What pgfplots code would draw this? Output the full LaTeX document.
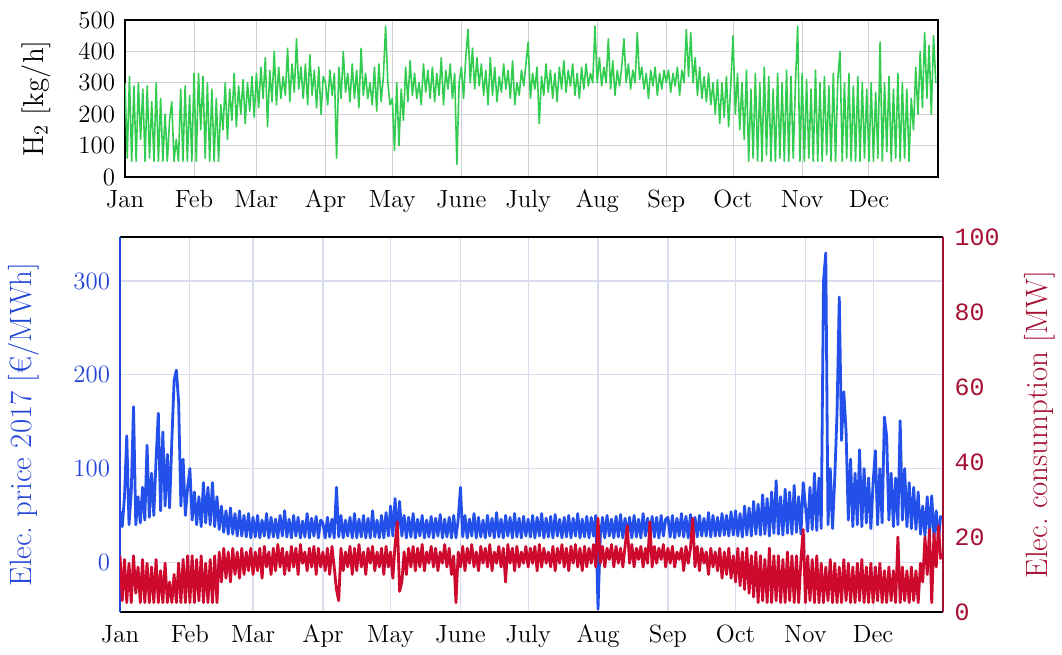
\documentclass[border=0pt]{standalone}
\usepackage{fontspec}
\setmonofont{Liberation Mono}
\usepackage{pgfplots}
\usepackage{pgfplotstable}
\pgfplotsset{compat=1.18}

\definecolor{hgreen}{RGB}{50,205,80}
\definecolor{pblue}{RGB}{35,80,235}
\definecolor{cred}{RGB}{205,10,45}
\definecolor{axred}{RGB}{165,15,50}
\definecolor{axblue}{RGB}{35,70,215}
\definecolor{gridgray}{RGB}{210,210,210}
\definecolor{gridblue}{RGB}{218,220,240}

\newcommand\tickfont{\fontsize{12.5}{15}\selectfont}
\newcommand\labfont{\fontsize{15.5}{18}\selectfont}
\newcommand\toplabfont{\fontsize{14.5}{17}\selectfont}

% one value per day, Jan 1 = 0
\pgfplotstableread[header=false,row sep=\\]{
300\\ 60\\ 320\\ 50\\ 290\\ 50\\ 300\\ 120\\ 280\\ 50\\ 290\\ 60\\ 240\\ 50\\ 300\\ 50\\ 250\\ 50\\ 200\\ 50\\ 180\\ 240\\ 50\\ 120\\ 50\\ 280\\ 50\\ 290\\ 50\\ 260\\ 50\\
330\\ 50\\ 330\\ 150\\ 320\\ 60\\ 300\\ 50\\ 280\\ 50\\ 250\\ 50\\ 230\\ 150\\ 300\\ 120\\ 280\\ 180\\ 330\\ 160\\ 290\\ 200\\ 310\\ 170\\ 300\\ 210\\ 320\\ 190\\
330\\ 220\\ 350\\ 250\\ 380\\ 160\\ 340\\ 240\\ 400\\ 230\\ 350\\ 250\\ 320\\ 260\\ 410\\ 240\\ 360\\ 270\\ 440\\ 280\\ 350\\ 250\\ 360\\ 230\\ 390\\ 260\\ 340\\ 220\\ 350\\ 200\\ 320\\
300\\ 230\\ 340\\ 260\\ 330\\ 60\\ 350\\ 250\\ 400\\ 270\\ 330\\ 240\\ 360\\ 250\\ 340\\ 220\\ 410\\ 260\\ 330\\ 250\\ 300\\ 230\\ 350\\ 210\\ 360\\ 240\\ 320\\ 480\\ 300\\ 230\\
250\\ 85\\ 300\\ 100\\ 280\\ 180\\ 350\\ 240\\ 370\\ 260\\ 330\\ 250\\ 300\\ 230\\ 360\\ 270\\ 340\\ 250\\ 350\\ 240\\ 330\\ 260\\ 380\\ 230\\ 340\\ 280\\ 360\\ 250\\ 330\\ 40\\ 300\\
350\\ 250\\ 380\\ 470\\ 300\\ 410\\ 280\\ 380\\ 290\\ 360\\ 260\\ 340\\ 230\\ 380\\ 260\\ 350\\ 240\\ 320\\ 270\\ 360\\ 280\\ 340\\ 250\\ 370\\ 230\\ 300\\ 260\\ 340\\ 290\\ 360\\
430\\ 250\\ 330\\ 280\\ 350\\ 170\\ 320\\ 260\\ 360\\ 270\\ 340\\ 250\\ 330\\ 240\\ 350\\ 280\\ 370\\ 270\\ 340\\ 290\\ 360\\ 260\\ 330\\ 250\\ 350\\ 280\\ 360\\ 290\\ 330\\ 300\\ 480\\
300\\ 380\\ 290\\ 350\\ 300\\ 440\\ 280\\ 370\\ 260\\ 340\\ 290\\ 350\\ 440\\ 300\\ 360\\ 280\\ 340\\ 300\\ 460\\ 310\\ 350\\ 280\\ 330\\ 250\\ 340\\ 290\\ 350\\ 260\\ 330\\ 280\\ 340\\
300\\ 340\\ 270\\ 330\\ 290\\ 350\\ 260\\ 340\\ 300\\ 470\\ 320\\ 460\\ 300\\ 380\\ 260\\ 350\\ 250\\ 320\\ 240\\ 330\\ 230\\ 300\\ 200\\ 310\\ 170\\ 300\\ 190\\ 320\\ 160\\ 300\\
450\\ 200\\ 330\\ 150\\ 300\\ 120\\ 340\\ 50\\ 280\\ 60\\ 330\\ 50\\ 300\\ 50\\ 350\\ 70\\ 320\\ 50\\ 280\\ 50\\ 330\\ 60\\ 300\\ 50\\ 340\\ 50\\ 320\\ 60\\ 300\\ 480\\ 50\\
330\\ 50\\ 310\\ 60\\ 280\\ 50\\ 340\\ 50\\ 300\\ 50\\ 320\\ 70\\ 290\\ 50\\ 330\\ 50\\ 310\\ 400\\ 50\\ 300\\ 60\\ 330\\ 50\\ 290\\ 50\\ 320\\ 50\\ 300\\ 60\\ 280\\
50\\ 300\\ 50\\ 270\\ 60\\ 430\\ 50\\ 300\\ 80\\ 320\\ 50\\ 280\\ 60\\ 330\\ 50\\ 300\\ 60\\ 280\\ 50\\ 250\\ 150\\ 350\\ 200\\ 400\\ 220\\ 460\\ 250\\ 420\\ 200\\ 450\\ 300\\
}\htwo

\pgfplotstableread[header=false,row sep=\\]{
55\\ 38\\ 70\\ 135\\ 40\\ 75\\ 166\\ 40\\ 70\\ 42\\ 80\\ 45\\ 125\\ 48\\ 95\\ 50\\ 110\\ 159\\ 55\\ 139\\ 60\\ 115\\ 58\\ 130\\ 194\\ 205\\ 171\\ 60\\ 110\\ 50\\ 80\\
100\\ 45\\ 75\\ 40\\ 70\\ 38\\ 85\\ 42\\ 80\\ 40\\ 85\\ 38\\ 70\\ 35\\ 60\\ 32\\ 55\\ 30\\ 58\\ 30\\ 52\\ 28\\ 55\\ 28\\ 50\\ 27\\ 52\\ 26\\
48\\ 27\\ 50\\ 26\\ 45\\ 28\\ 52\\ 26\\ 48\\ 27\\ 46\\ 26\\ 50\\ 28\\ 55\\ 27\\ 46\\ 26\\ 50\\ 28\\ 48\\ 26\\ 44\\ 27\\ 52\\ 26\\ 47\\ 28\\ 49\\ 26\\ 45\\
42\\ 26\\ 48\\ 27\\ 46\\ 26\\ 80\\ 27\\ 50\\ 26\\ 45\\ 28\\ 48\\ 26\\ 52\\ 26\\ 46\\ 27\\ 50\\ 26\\ 47\\ 26\\ 55\\ 27\\ 45\\ 26\\ 50\\ 26\\ 53\\ 28\\
60\\ 28\\ 68\\ 27\\ 65\\ 28\\ 50\\ 26\\ 48\\ 27\\ 52\\ 26\\ 46\\ 28\\ 50\\ 26\\ 45\\ 27\\ 49\\ 26\\ 47\\ 28\\ 51\\ 26\\ 46\\ 27\\ 48\\ 26\\ 50\\ 26\\ 46\\
80\\ 27\\ 50\\ 26\\ 46\\ 28\\ 52\\ 26\\ 48\\ 27\\ 45\\ 26\\ 50\\ 28\\ 47\\ 26\\ 53\\ 27\\ 46\\ 26\\ 50\\ 28\\ 48\\ 26\\ 52\\ 27\\ 47\\ 26\\ 49\\ 28\\
46\\ 27\\ 50\\ 26\\ 48\\ 28\\ 52\\ 26\\ 47\\ 27\\ 49\\ 26\\ 51\\ 28\\ 46\\ 26\\ 48\\ 27\\ 50\\ 26\\ 47\\ 28\\ 52\\ 26\\ 46\\ 27\\ 49\\ 26\\ 48\\ 28\\ 50\\
-50\\ 27\\ 48\\ 26\\ 50\\ 28\\ 46\\ 26\\ 49\\ 27\\ 51\\ 26\\ 47\\ 28\\ 48\\ 26\\ 50\\ 27\\ 46\\ 26\\ 52\\ 28\\ 47\\ 26\\ 49\\ 27\\ 48\\ 26\\ 50\\ 28\\ 46\\
48\\ 27\\ 50\\ 26\\ 47\\ 28\\ 52\\ 27\\ 49\\ 26\\ 51\\ 28\\ 48\\ 27\\ 50\\ 28\\ 47\\ 28\\ 53\\ 27\\ 50\\ 28\\ 48\\ 28\\ 52\\ 29\\ 50\\ 28\\ 54\\ 29\\
55\\ 28\\ 52\\ 27\\ 60\\ 29\\ 58\\ 28\\ 65\\ 30\\ 62\\ 29\\ 72\\ 30\\ 68\\ 28\\ 75\\ 31\\ 87\\ 30\\ 70\\ 29\\ 78\\ 31\\ 75\\ 30\\ 82\\ 32\\ 70\\ 30\\ 85\\
60\\ 33\\ 80\\ 35\\ 95\\ 34\\ 90\\ 36\\ 300\\ 330\\ 40\\ 100\\ 36\\ 90\\ 159\\ 283\\ 130\\ 182\\ 140\\ 45\\ 110\\ 38\\ 95\\ 40\\ 120\\ 38\\ 100\\ 42\\ 90\\ 36\\
85\\ 119\\ 40\\ 100\\ 42\\ 155\\ 135\\ 45\\ 95\\ 38\\ 90\\ 40\\ 151\\ 45\\ 100\\ 38\\ 85\\ 36\\ 80\\ 35\\ 75\\ 30\\ 60\\ 28\\ 70\\ 30\\ 71\\ 26\\ 55\\ 25\\ 50\\
}\price

\pgfplotstableread[header=false,row sep=\\]{
15\\ 3\\ 14\\ 2.5\\ 13\\ 2.5\\ 15\\ 5\\ 12\\ 2.5\\ 14\\ 2.5\\ 13\\ 2.5\\ 12\\ 2.5\\ 14\\ 2.5\\ 11\\ 2.5\\ 13\\ 2.5\\ 8\\ 2.5\\ 10\\ 2.5\\ 13\\ 2.5\\ 14\\ 2.5\\ 15\\
2.5\\ 15\\ 2.5\\ 14\\ 3\\ 15\\ 2.5\\ 13\\ 2.5\\ 14\\ 2.5\\ 15\\ 2.5\\ 16\\ 8\\ 17\\ 9\\ 16\\ 8\\ 17\\ 10\\ 16\\ 9\\ 17\\ 10\\ 16\\ 11\\ 17\\
10\\ 16\\ 11\\ 17\\ 9\\ 17.5\\ 12\\ 16\\ 10\\ 17\\ 11\\ 18\\ 12\\ 17\\ 10\\ 16\\ 11\\ 17.5\\ 12\\ 17\\ 10\\ 18\\ 13\\ 16\\ 11\\ 17\\ 12\\ 17.5\\ 10\\ 17\\ 12\\
16\\ 11\\ 17\\ 10\\ 17.5\\ 12\\ 6\\ 3\\ 17\\ 11\\ 16\\ 12\\ 17.5\\ 10\\ 17\\ 11\\ 18\\ 12\\ 16\\ 10\\ 17\\ 13\\ 17.5\\ 11\\ 16\\ 12\\ 17\\ 10\\ 17.5\\ 12\\
16\\ 9\\ 18\\ 24\\ 5.5\\ 8\\ 16\\ 10\\ 17\\ 12\\ 17.5\\ 11\\ 17\\ 12\\ 18\\ 11\\ 16\\ 13\\ 17.5\\ 12\\ 17\\ 11\\ 16\\ 13\\ 18\\ 12\\ 17\\ 10\\ 15\\ 2.5\\ 16\\
12\\ 17.5\\ 11\\ 17\\ 13\\ 18\\ 12\\ 16\\ 11\\ 17.5\\ 13\\ 17\\ 12\\ 18\\ 11\\ 16\\ 13\\ 17.5\\ 12\\ 17\\ 8\\ 18\\ 13\\ 17\\ 11\\ 17.5\\ 12\\ 16\\ 13\\ 17.5\\
12\\ 17\\ 13\\ 17.5\\ 11\\ 18\\ 12\\ 17\\ 13\\ 16\\ 12\\ 17.5\\ 11\\ 17\\ 13\\ 18\\ 12\\ 17\\ 11\\ 17.5\\ 13\\ 18\\ 12\\ 17\\ 11\\ 17.5\\ 12\\ 17\\ 13\\ 18\\ 12\\
25\\ 13\\ 17.5\\ 12\\ 17\\ 14\\ 18\\ 12\\ 17.5\\ 13\\ 17\\ 12\\ 17.5\\ 23\\ 13\\ 18\\ 12\\ 17\\ 14\\ 17.5\\ 12\\ 17\\ 13\\ 24\\ 12\\ 17.5\\ 13\\ 17\\ 14\\ 18\\ 12\\
17\\ 13\\ 17.5\\ 12\\ 16\\ 14\\ 17\\ 11\\ 17.5\\ 13\\ 17\\ 25\\ 12\\ 17.5\\ 11\\ 17\\ 13\\ 16\\ 10\\ 17\\ 12\\ 16\\ 11\\ 17\\ 9\\ 16\\ 10\\ 17\\ 9\\ 15\\
8\\ 17\\ 7\\ 16\\ 6\\ 17\\ 5\\ 15\\ 4\\ 16\\ 2.5\\ 15\\ 3\\ 14\\ 2.5\\ 17\\ 2.5\\ 15\\ 3\\ 15\\ 2.5\\ 14\\ 2.5\\ 16\\ 3\\ 15\\ 2.5\\ 15\\ 2.5\\ 14\\ 22\\
2.5\\ 15\\ 3\\ 14\\ 2.5\\ 15\\ 2.5\\ 13\\ 2.5\\ 12\\ 3\\ 14\\ 2.5\\ 13\\ 2.5\\ 12\\ 2.5\\ 14\\ 3\\ 13\\ 2.5\\ 12\\ 2.5\\ 13\\ 3\\ 14\\ 2.5\\ 12\\ 2.5\\ 13\\
2.5\\ 12\\ 3\\ 13\\ 2.5\\ 11\\ 2.5\\ 12\\ 3\\ 11\\ 2.5\\ 20\\ 2.5\\ 12\\ 3\\ 11\\ 2.5\\ 12\\ 3\\ 11\\ 2.5\\ 13\\ 8\\ 20\\ 10\\ 22\\ 2.5\\ 21\\ 12\\ 23\\ 14\\
}\mw

\pgfplotsset{
  months/.style={
    xmin=0, xmax=365,
    xtick={0,31,59,90,120,151,181,212,243,273,304,334},
    xticklabels={Jan,Feb,Mar,Apr,May,June,July,Aug,Sep,Oct,Nov,Dec},
    xticklabel style={yshift=-3bp},
  },
  base/.style={
    scale only axis,
    /pgf/number format/assume math mode=true,
    tick label style={font=\tickfont},
    tick style={draw=none},
  },
}

\begin{document}
\begin{tikzpicture}
\path[use as bounding box] (-60bp,-21.5bp) rectangle (471bp,306bp);
% hydrogen production
\begin{axis}[
  base,
  at={(2.5bp,217.5bp)}, anchor=south west,
  width=406.5bp, height=78.5bp,
  months,
  ymin=0, ymax=500, ytick={0,100,...,500},
  yticklabel style={xshift=-1.5bp},
  grid=major, grid style={gridgray, line width=0.5bp},
  axis line style={black, line width=0.8bp},
  ylabel={H$_2$ [kg/h]},
  ylabel style={font=\toplabfont, at={(axis description cs:-0.1095,0.5)}, anchor=center},
]
\addplot[hgreen, line width=0.8bp, line join=round] table[x expr=\coordindex, y index=0] {\htwo};
\end{axis}

% electricity price (left)
\begin{axis}[
  base,
  at={(0,0)}, anchor=south west,
  width=411.5bp, height=187.5bp,
  months,
  ymin=-53, ymax=347, ytick={0,100,200,300},
  grid=major, grid style={gridblue, line width=0.6bp},
  axis y line*=left, axis x line*=box,
  x axis line style={black, line width=0.8bp, -},
  y axis line style={axblue, line width=0.8bp, -},
  yticklabel style={text=axblue, xshift=-1.5bp},
  ylabel={Elec.\ price 2017 [€/MWh]},
  ylabel style={font=\labfont, text=axblue, at={(axis description cs:-0.1166,0.5)}, anchor=center},
]
\addplot[pblue, line width=1.4bp, line join=round] table[x expr=\coordindex, y index=0] {\price};
\end{axis}

% electricity consumption (right)
\begin{axis}[
  base,
  at={(0,0)}, anchor=south west,
  width=411.5bp, height=187.5bp,
  xmin=0, xmax=365,
  axis x line=none, axis y line*=right,
  ymin=0, ymax=100, ytick={0,20,...,100},
  y axis line style={axred, line width=0.8bp, -},
  yticklabel style={font=\tickfont\ttfamily, text=axred, xshift=2.3bp},
  ylabel={Elec.\ consumption [MW]},
  ylabel style={font=\labfont, text=axred, at={(axis description cs:1.1179,0.5)}, anchor=center},
]
\addplot[cred, line width=1.4bp, line join=round] table[x expr=\coordindex, y index=0] {\mw};
\end{axis}
\end{tikzpicture}
\end{document}
